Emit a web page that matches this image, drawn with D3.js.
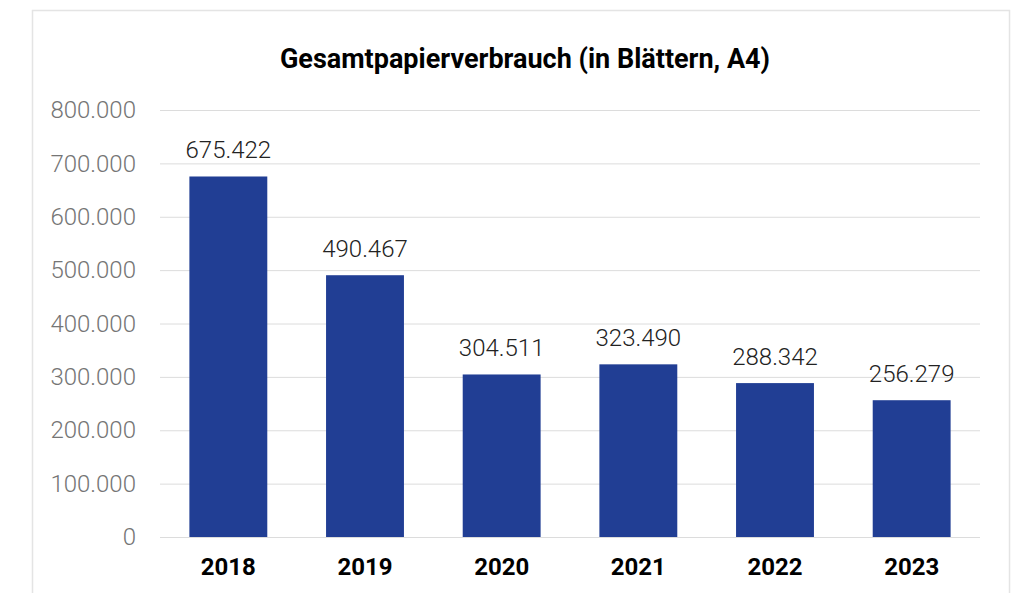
<!DOCTYPE html>
<html lang="de">
<head>
    <meta charset="UTF-8">
    <title>Gesamtpapierverbrauch</title>
    <script src="https://d3js.org/d3.v7.min.js"></script>
    <style>
        body { margin: 0; background: #fff; font-family: Roboto, sans-serif; }
    </style>
</head>
<body>
    <svg width="1018" height="593"></svg>
    <script>
        const years = ["2018", "2019", "2020", "2021", "2022", "2023"];
        const sheets = [675422, 490467, 304511, 323490, 288342, 256279];
        const yTicks = [0, 100000, 200000, 300000, 400000, 500000, 600000, 700000, 800000];
        const title = "Gesamtpapierverbrauch (in Blättern, A4)";

        const width = 1018, height = 593;
        const margin = { left: 160, right: 980, top: 110, bottom: 537 };
        const svg = d3.select("svg");

        const de = d3.formatLocale({ decimal: ",", thousands: ".", grouping: [3], currency: ["", " €"] });
        const fmt = de.format(",d");

        // card border
        svg.append("rect")
            .attr("x", 32.5).attr("y", 10.5)
            .attr("width", 977).attr("height", 600)
            .attr("fill", "#fff").attr("stroke", "#e4e4e4").attr("stroke-width", 1.5);

        const x = d3.scaleBand().domain(years).range([margin.left, margin.right]).paddingInner(0.43).paddingOuter(0.215);
        const y = d3.scaleLinear().domain([0, 800000]).range([margin.bottom, margin.top]);

        // gridlines + y labels
        const yAxis = svg.append("g")
            .attr("transform", `translate(${margin.left},0)`)
            .call(d3.axisLeft(y).tickValues(yTicks).tickSize(-(margin.right - margin.left)).tickFormat(fmt).tickPadding(24));
        yAxis.select(".domain").remove();
        yAxis.selectAll(".tick line").attr("stroke", "#dcdcdc").attr("stroke-width", 1);
        yAxis.selectAll(".tick text")
            .attr("fill", "#757575").attr("font-size", 24).attr("font-weight", 300)
            .attr("font-family", "Roboto, sans-serif");

        // bars
        svg.append("g").selectAll("rect")
            .data(years)
            .join("rect")
            .attr("x", d => x(d))
            .attr("y", (d, i) => y(sheets[i]))
            .attr("width", x.bandwidth())
            .attr("height", (d, i) => y(0) - y(sheets[i]))
            .attr("fill", "#213e94");

        // value labels
        svg.append("g").selectAll("text")
            .data(years)
            .join("text")
            .attr("x", d => x(d) + x.bandwidth() / 2)
            .attr("y", (d, i) => y(sheets[i]) - 18)
            .attr("text-anchor", "middle")
            .attr("font-size", 24)
            .attr("font-weight", 300)
            .attr("fill", "#222")
            .text((d, i) => fmt(sheets[i]));

        // x labels
        const xAxis = svg.append("g")
            .attr("transform", `translate(0,${margin.bottom})`)
            .call(d3.axisBottom(x).tickSize(0).tickPadding(21));
        xAxis.select(".domain").remove();
        xAxis.selectAll(".tick text")
            .attr("fill", "#000").attr("font-size", 24).attr("font-weight", "bold")
            .attr("font-family", "Roboto, sans-serif");

        // title
        svg.append("text")
            .attr("x", 525).attr("y", 68)
            .attr("text-anchor", "middle")
            .attr("font-size", 27).attr("font-weight", "bold").attr("fill", "#000")
            .text(title);
    </script>
</body>
</html>
